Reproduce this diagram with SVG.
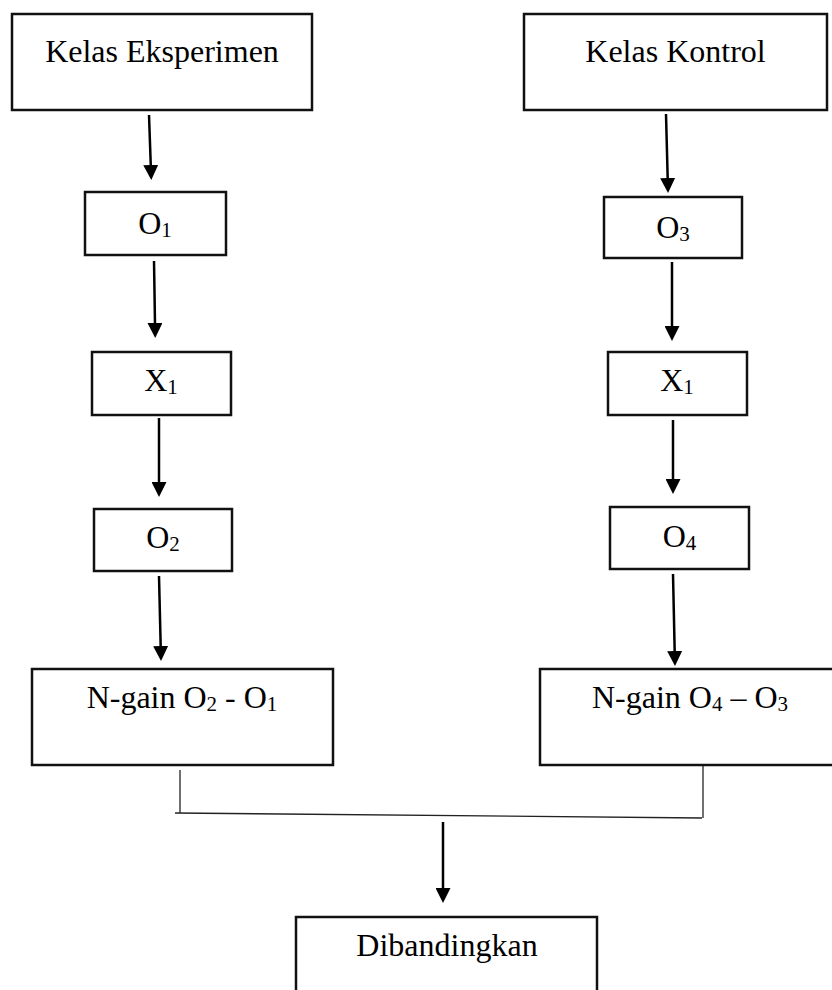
<svg xmlns="http://www.w3.org/2000/svg" width="832" height="990" viewBox="0 0 832 990">
  <style>
    .box { fill: #ffffff; stroke: #111111; stroke-width: 2.5; }
    .lbl { font-family: "Liberation Serif", "Times New Roman", serif; font-size: 32px; fill: #000000; text-anchor: middle; }
    .sub { font-size: 21px; }
    .arrow { stroke: #000000; stroke-width: 2.5; fill: none; marker-end: url(#ah); }
    .link { stroke: #222222; stroke-width: 1.3; fill: none; }
  </style>
  <defs>
    <marker id="ah" viewBox="0 0 15 15" refX="1" refY="7.5" markerWidth="15" markerHeight="15" markerUnits="userSpaceOnUse" orient="auto">
      <path d="M0,0 L15,7.5 L0,15 z" fill="#000000"/>
    </marker>
  </defs>
  <rect width="832" height="990" fill="#ffffff"/>

  <g id="connectors">
    <line class="arrow" x1="149" y1="115" x2="150.8" y2="166"/>
    <line class="arrow" x1="154" y1="261" x2="155" y2="324"/>
    <line class="arrow" x1="159" y1="418" x2="159" y2="483"/>
    <line class="arrow" x1="159" y1="576" x2="160.7" y2="647"/>
    <line class="arrow" x1="666" y1="114" x2="667.7" y2="179"/>
    <line class="arrow" x1="672" y1="262" x2="672" y2="327"/>
    <line class="arrow" x1="673" y1="420" x2="673" y2="480"/>
    <line class="arrow" x1="673" y1="574" x2="674.7" y2="652"/>
    <polyline class="link" points="180,770 180,813"/>
    <polyline class="link" points="175,813 702,818"/>
    <polyline class="link" points="703,766 703,818"/>
    <line class="arrow" x1="443" y1="822" x2="443" y2="889"/>
  </g>

  <g id="kelas-eksperimen">
    <rect class="box" x="12" y="14" width="300" height="96"/>
    <text class="lbl" x="162" y="62">Kelas Eksperimen</text>
  </g>
  <g id="kelas-kontrol">
    <rect class="box" x="524" y="14" width="303" height="96"/>
    <text class="lbl" x="675.5" y="62">Kelas Kontrol</text>
  </g>
  <g id="o1">
    <rect class="box" x="85" y="192" width="141" height="63"/>
    <text class="lbl" x="155" y="234">O<tspan class="sub" dy="3">1</tspan></text>
  </g>
  <g id="o3">
    <rect class="box" x="604" y="197" width="138" height="61"/>
    <text class="lbl" x="673" y="238">O<tspan class="sub" dy="3">3</tspan></text>
  </g>
  <g id="x1-left">
    <rect class="box" x="92" y="352" width="139" height="63"/>
    <text class="lbl" x="161" y="391">X<tspan class="sub" dy="3">1</tspan></text>
  </g>
  <g id="x1-right">
    <rect class="box" x="608" y="352" width="139" height="63"/>
    <text class="lbl" x="677" y="391">X<tspan class="sub" dy="3">1</tspan></text>
  </g>
  <g id="o2">
    <rect class="box" x="94" y="509" width="138" height="62"/>
    <text class="lbl" x="163" y="548">O<tspan class="sub" dy="3">2</tspan></text>
  </g>
  <g id="o4">
    <rect class="box" x="610" y="507" width="139" height="62"/>
    <text class="lbl" x="679.5" y="547">O<tspan class="sub" dy="3">4</tspan></text>
  </g>
  <g id="ngain-eksperimen">
    <rect class="box" x="32" y="669" width="301" height="96"/>
    <text class="lbl" x="182" y="708">N-gain O<tspan class="sub" dy="3">2</tspan><tspan dy="-3"> - O</tspan><tspan class="sub" dy="3">1</tspan></text>
  </g>
  <g id="ngain-kontrol">
    <rect class="box" x="540" y="669" width="305" height="96"/>
    <text class="lbl" x="690" y="708">N-gain O<tspan class="sub" dy="3">4</tspan><tspan dy="-3"> – O</tspan><tspan class="sub" dy="3">3</tspan></text>
  </g>
  <g id="dibandingkan">
    <rect class="box" x="296" y="917" width="301" height="90"/>
    <text class="lbl" x="447" y="956">Dibandingkan</text>
  </g>
</svg>
